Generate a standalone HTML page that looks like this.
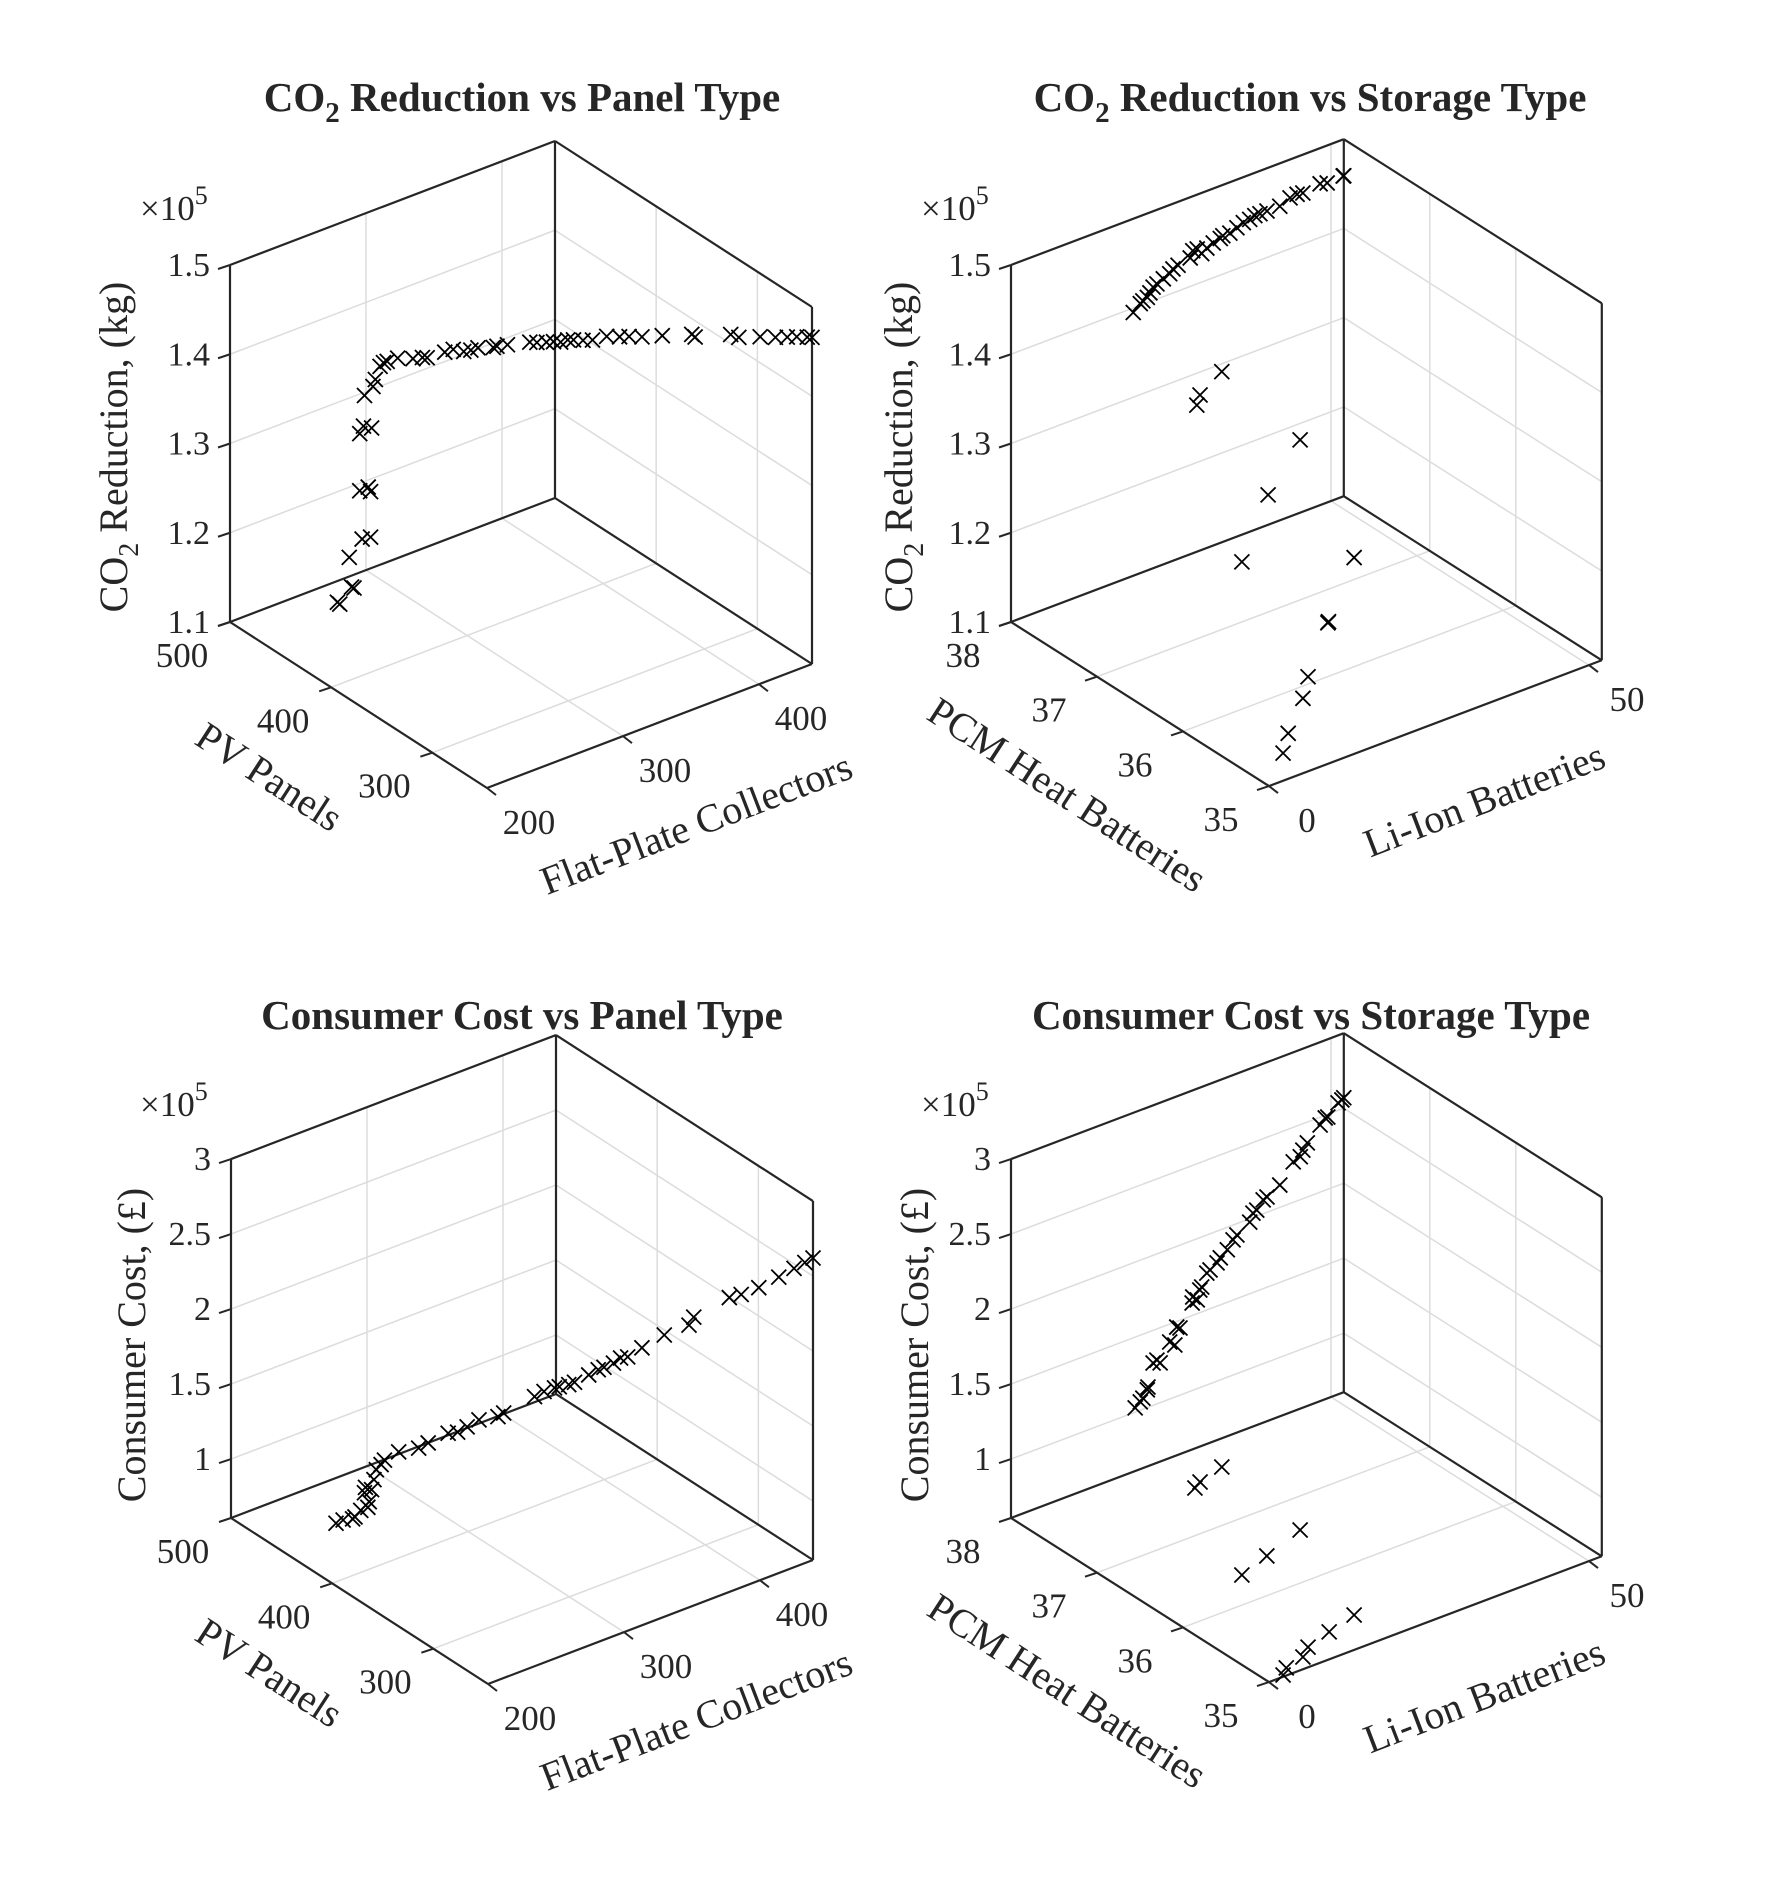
<!DOCTYPE html>
<html><head><meta charset="utf-8"><style>
html,body{margin:0;padding:0;background:#fff;}
svg{display:block;}
text{font-family:"Liberation Serif",serif;fill:#262626;}
</style></head><body>
<svg id="fig" xmlns="http://www.w3.org/2000/svg" width="1772" height="1890" viewBox="0 0 1772 1890">
<rect width="1772" height="1890" fill="#fff"/>
</svg>
<script>
// ---- Top-left: CO2 vs panel type ----
const tlFp=[244,245,250,251,249,254,258,253,257,258,253,255,258,255,259,260,262,263,265,269,275,279,281,288,292,296,299,302,308,310,314,323,326,330,333,336,339,341,345,349,355,360,364,369,378,390,391,406,409,418,424,429,433,437,439];
const tlPv=[453,452,447,446,448,442,439,443,440,439,443,442,438,441,438,437,435,433,432,427,420,416,414,406,403,398,395,392,385,384,379,369,366,362,359,356,353,350,346,342,336,330,326,320,312,299,297,282,278,269,262,257,253,248,246];
const tlCo2=[1.131,1.129,1.149,1.148,1.182,1.204,1.206,1.258,1.262,1.257,1.322,1.330,1.329,1.365,1.375,1.383,1.398,1.403,1.404,1.409,1.410,1.412,1.412,1.420,1.423,1.422,1.424,1.427,1.429,1.430,1.433,1.438,1.438,1.439,1.440,1.440,1.443,1.444,1.444,1.445,1.450,1.451,1.452,1.453,1.455,1.459,1.457,1.462,1.460,1.462,1.463,1.464,1.465,1.466,1.466];
// ---- Top-right: CO2 vs storage type ----
const trLi=[19.1,20.2,20.6,21.3,21.7,22.2,22.8,23.8,24.8,25.3,26.1,28.0,28.4,29.1,29.8,30.6,31.6,32.7,33.1,34.2,35.3,36.3,37.3,38.1,38.9,40.0,42.0,43.6,44.7,45.6,48.3,49.4,51.9,52.0,15.6,16.1,19.5,18.3,13.3,9.2,13.3,9.2,9.3,6.1,5.3,3.0,2.2];
const trPcm=[38,38,38,38,38,38,38,38,38,38,38,38,38,38,38,38,38,38,38,38,38,38,38,38,38,38,38,38,38,38,38,38,38,38,37,37,37,36,36,36,35,35,35,35,35,35,35];
const trCo2=[1.395,1.402,1.404,1.406,1.410,1.415,1.417,1.420,1.423,1.427,1.429,1.432,1.439,1.439,1.432,1.436,1.439,1.441,1.443,1.443,1.446,1.449,1.450,1.452,1.452,1.452,1.452,1.457,1.458,1.457,1.460,1.458,1.459,1.459,1.362,1.372,1.389,1.377,1.329,1.265,1.320,1.258,1.259,1.206,1.184,1.151,1.131];
// ---- Bottom-left: cost vs panel type ----
const blFp=[243,246,250,251,253,256,257,255,255,258,259,260,262,263,269,277,281,289,293,297,302,310,312,325,329,333,335,339,341,347,351,353,357,360,363,369,378,388,390,405,410,417,425,431,436,439];
const blPv=[454,451,447,446,443,440,440,442,441,439,438,437,435,433,427,418,414,405,401,397,392,384,381,368,364,359,357,353,350,344,340,337,333,330,327,321,311,300,298,283,278,270,261,254,250,246];
const blCost=[0.624,0.648,0.659,0.673,0.723,0.746,0.780,0.838,0.878,0.861,0.929,0.996,1.032,1.067,1.127,1.164,1.202,1.278,1.289,1.328,1.379,1.408,1.438,1.559,1.597,1.629,1.638,1.656,1.678,1.732,1.770,1.793,1.824,1.861,1.871,1.937,2.035,2.114,2.169,2.313,2.338,2.394,2.476,2.544,2.583,2.620];
// ---- Bottom-right: cost vs storage type ----
const brLi=[19.4,20.2,20.6,21.3,21.4,22.2,22.8,23.3,24.8,25.6,25.9,26.4,28.3,28.4,29.1,29.5,29.8,30.6,31.1,32.2,32.7,33.8,34.7,35.3,37.3,37.8,38.4,39.4,40.0,42.0,44.1,45.2,45.6,46.3,48.3,49.1,49.5,51.1,51.7,52.0,15.3,16.1,19.5,9.2,13.1,18.3,2.2,2.7,5.3,6.1,9.4,13.3];
const brPcm=[38,38,38,38,38,38,38,38,38,38,38,38,38,38,38,38,38,38,38,38,38,38,38,38,38,38,38,38,38,38,38,38,38,38,38,38,38,38,38,38,37,37,37,36,36,36,35,35,35,35,35,35];
const brCost=[1.028,1.055,1.074,1.118,1.135,1.282,1.292,1.265,1.380,1.347,1.462,1.448,1.584,1.622,1.592,1.651,1.666,1.746,1.759,1.788,1.814,1.850,1.901,1.924,1.978,2.030,2.040,2.092,2.102,2.149,2.270,2.286,2.324,2.361,2.448,2.482,2.482,2.550,2.560,2.570,0.925,0.952,0.997,0.808,0.872,0.961,0.619,0.658,0.689,0.742,0.790,0.840];

const zTicksTop=[1.1,1.2,1.3,1.4,1.5];
const zTickLabelsTop=["1.1","1.2","1.3","1.4","1.5"];
const zTicksBot=[1,1.5,2,2.5,3];
const zTickLabelsBot=["1","1.5","2","2.5","3"];
const fpTicks=[200,300,400];
const pvTicks=[300,400,500];
const liTicks=[0,50];
const pcmTicks=[35,36,37,38];

const NS="http://www.w3.org/2000/svg";
const svg=document.getElementById('fig');
function mk(tag,attrs,parent){const e=document.createElementNS(NS,tag);for(const k in attrs)e.setAttribute(k,attrs[k]);(parent||svg).appendChild(e);return e;}

function makePanel(cfg){
  const g=mk('g',{});
  
  
  const P=(u,v,w)=>[cfg.A[0]+(u-cfg.u0)*cfg.eu[0]+(v-cfg.v0)*cfg.ev[0],
                    cfg.A[1]+(u-cfg.u0)*cfg.eu[1]+(v-cfg.v0)*cfg.ev[1]+(w-cfg.w0)*cfg.ew];
  const u0=cfg.u0,u1=cfg.u1,v0=cfg.v0,v1=cfg.v1,w0=cfg.w0,w1=cfg.w1;
  const line=(p,q,st,sw,nm)=>{const l=mk('line',{x1:p[0],y1:p[1],x2:q[0],y2:q[1],stroke:st,'stroke-width':sw},g);
    
    return l;};
  const grid='#dcdcdc';
  cfg.uT.forEach(t=>{ if(t>u0&&t<u1){line(P(t,v0,w0),P(t,v0,w1),grid,1.5,'grid-line');line(P(t,v0,w0),P(t,v1,w0),grid,1.5,'grid-line');}});
  cfg.vT.forEach(t=>{ if(t>Math.min(v0,v1)&&t<Math.max(v0,v1)){line(P(u1,t,w0),P(u1,t,w1),grid,1.5,'grid-line');line(P(u0,t,w0),P(u1,t,w0),grid,1.5,'grid-line');}});
  cfg.wT.forEach(t=>{ if(t>w0&&t<=w1){line(P(u0,v0,t),P(u1,v0,t),grid,1.5,'grid-line');line(P(u1,v0,t),P(u1,v1,t),grid,1.5,'grid-line');}});
  const ax='#262626';
  const A=P(u0,v0,w0),B=P(u0,v1,w0),C=P(u1,v1,w0),D=P(u1,v0,w0);
  const At=P(u0,v0,w1),Ct=P(u1,v1,w1),Dt=P(u1,v0,w1);
  [[A,B],[B,C],[A,D],[D,C],[A,At],[D,Dt],[C,Ct],[At,Dt],[Dt,Ct]].forEach(e=>line(e[0],e[1],ax,2.2,'axis-box-edge'));
  cfg.wT.forEach((t,i)=>{const p=P(u0,v0,t);line(p,[p[0]-12,p[1]+4],ax,2,'z-tick');
    const tx=mk('text',{x:p[0]-20,y:p[1]+11,'font-size':34,'text-anchor':'end'},g);tx.textContent=cfg.wL[i];
    
    });
  cfg.vT.forEach(t=>{const p=P(u0,t,w0);line(p,[p[0]-12,p[1]+4],ax,2,'v-tick');
    const tx=mk('text',{x:p[0]-48,y:p[1]+45,'font-size':35,'text-anchor':'middle'},g);tx.textContent=String(t);
    
    });
  cfg.uT.forEach(t=>{const p=P(t,v1,w0);line(p,[p[0]+9,p[1]+7],ax,2,'u-tick');
    const tx=mk('text',{x:p[0]+cfg.uOff,y:p[1]+46,'font-size':35,'text-anchor':'middle'},g);tx.textContent=String(t);
    
    });
  const U=cfg.U,V=cfg.V,W=cfg.W;
  for(let i=0;i<U.length;i++){
    const p=P(U[i],V[i],W[i]);const s=7.5;
    const m=mk('path',{d:`M${p[0]-s},${p[1]-s}L${p[0]+s},${p[1]+s}M${p[0]-s},${p[1]+s}L${p[0]+s},${p[1]-s}`,stroke:'#000','stroke-width':1.8,fill:'none'},g);
    
    
  }
}

makePanel({name:'co2-vs-panel-plot',A:[230,622],u0:200,u1:439,v0:500,v1:246,w0:1.1,w1:1.5,
  eu:[325/239,-124/239],ev:[-257/254,-166/254],ew:-892.5,uT:fpTicks,vT:pvTicks,wT:zTicksTop,wL:zTickLabelsTop,uOff:42,
  U:tlFp,V:tlPv,W:tlCo2});
makePanel({name:'co2-vs-storage-plot',A:[1011,622],u0:0,u1:52,v0:38,v1:35,w0:1.1,w1:1.5,
  eu:[6.4,-2.42],ev:[-86,-54.7],ew:-892.5,uT:liTicks,vT:pcmTicks,wT:zTicksTop,wL:zTickLabelsTop,uOff:38,
  U:trLi,V:trPcm,W:trCo2});
makePanel({name:'cost-vs-panel-plot',A:[231,1518],u0:200,u1:439,v0:500,v1:246,w0:0.607,w1:3.0,
  eu:[325/239,-124/239],ev:[-257/254,-166/254],ew:-150,uT:fpTicks,vT:pvTicks,wT:zTicksBot,wL:zTickLabelsBot,uOff:42,
  U:blFp,V:blPv,W:blCost});
makePanel({name:'cost-vs-storage-plot',A:[1011,1518],u0:0,u1:52,v0:38,v1:35,w0:0.607,w1:3.0,
  eu:[6.4,-2.42],ev:[-86,-54.7],ew:-150,uT:liTicks,vT:pcmTicks,wT:zTicksBot,wL:zTickLabelsBot,uOff:38,
  U:brLi,V:brPcm,W:brCost});
</script>
<svg style="position:absolute;left:0;top:0" width="1772" height="1890" viewBox="0 0 1772 1890" xmlns="http://www.w3.org/2000/svg">
<style>text{font-family:"Liberation Serif",serif;fill:#262626;}</style>
<text x="522" y="111" font-size="41" font-weight="bold" text-anchor="middle" fill="#000">CO<tspan font-size="29" dy="11">2</tspan><tspan dy="-11"> Reduction vs Panel Type</tspan></text>
<text x="1310" y="111" font-size="41" font-weight="bold" text-anchor="middle" fill="#000">CO<tspan font-size="29" dy="11">2</tspan><tspan dy="-11"> Reduction vs Storage Type</tspan></text>
<text x="522" y="1029" font-size="41" font-weight="bold" text-anchor="middle" fill="#000">Consumer Cost vs Panel Type</text>
<text x="1311" y="1029" font-size="41" font-weight="bold" text-anchor="middle" fill="#000">Consumer Cost vs Storage Type</text>
<text x="140" y="220" font-size="35">×10<tspan font-size="26" dy="-16">5</tspan></text>
<text x="921" y="220" font-size="35">×10<tspan font-size="26" dy="-16">5</tspan></text>
<text x="140" y="1116" font-size="35">×10<tspan font-size="26" dy="-16">5</tspan></text>
<text x="921" y="1116" font-size="35">×10<tspan font-size="26" dy="-16">5</tspan></text>
<text transform="translate(127,447) rotate(-90)" font-size="40" text-anchor="middle">CO<tspan font-size="28" dy="11">2</tspan><tspan dy="-11"> Reduction, (kg)</tspan></text>
<text transform="translate(912,447) rotate(-90)" font-size="40" text-anchor="middle">CO<tspan font-size="28" dy="11">2</tspan><tspan dy="-11"> Reduction, (kg)</tspan></text>
<text transform="translate(145,1345) rotate(-90)" font-size="40" text-anchor="middle">Consumer Cost, (£)</text>
<text transform="translate(928,1345) rotate(-90)" font-size="40" text-anchor="middle">Consumer Cost, (£)</text>
<text transform="translate(262,788) rotate(33)" font-size="40" text-anchor="middle">PV Panels</text>
<text transform="translate(262,1684) rotate(33)" font-size="40" text-anchor="middle">PV Panels</text>
<text transform="translate(701,836) rotate(-21)" font-size="40" text-anchor="middle">Flat-Plate Collectors</text>
<text transform="translate(701,1732) rotate(-21)" font-size="40" text-anchor="middle">Flat-Plate Collectors</text>
<text transform="translate(1060,806) rotate(33)" font-size="40" text-anchor="middle">PCM Heat Batteries</text>
<text transform="translate(1060,1702) rotate(33)" font-size="40" text-anchor="middle">PCM Heat Batteries</text>
<text transform="translate(1489,812) rotate(-21)" font-size="40" text-anchor="middle">Li-Ion Batteries</text>
<text transform="translate(1489,1708) rotate(-21)" font-size="40" text-anchor="middle">Li-Ion Batteries</text>
</svg>
</body></html>
